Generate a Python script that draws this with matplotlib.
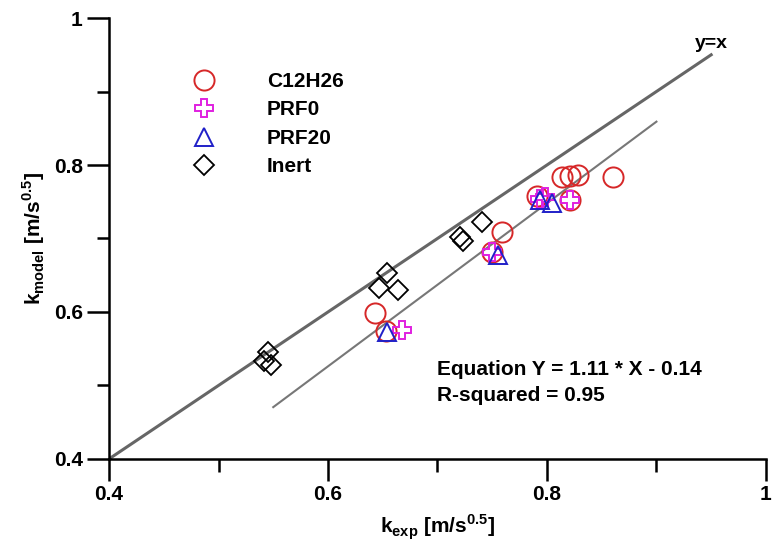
import numpy as np
import matplotlib.pyplot as plt
from matplotlib.ticker import MultipleLocator

plt.rcParams['font.family'] = ['Liberation Sans', 'DejaVu Sans']
plt.rcParams['font.weight'] = 'bold'
plt.rcParams['mathtext.fontset'] = 'custom'
plt.rcParams['mathtext.rm'] = 'Liberation Sans:bold'
plt.rcParams['mathtext.bf'] = 'Liberation Sans:bold'

# k_exp, k_model values
c12_x = [0.643, 0.653, 0.750, 0.759, 0.791, 0.814, 0.821, 0.828, 0.860, 0.821]
c12_y = [0.599, 0.574, 0.682, 0.709, 0.758, 0.784, 0.785, 0.786, 0.784, 0.752]

prf0_x = [0.668, 0.750, 0.794, 0.798, 0.821]
prf0_y = [0.575, 0.682, 0.754, 0.757, 0.752]

prf20_x = [0.654, 0.755, 0.794, 0.805]
prf20_y = [0.573, 0.678, 0.752, 0.748]

inert_x = [0.545, 0.542, 0.548, 0.654, 0.647, 0.664, 0.721, 0.723, 0.741]
inert_y = [0.545, 0.533, 0.528, 0.653, 0.633, 0.630, 0.702, 0.697, 0.722]

diag_x = [0.4, 0.95]
fit_x = [0.55, 0.9]
slope, intercept = 1.11, -0.14

fig = plt.figure(figsize=(7.76, 5.47), dpi=100)
ax = fig.add_axes([0.1405, 0.161, 0.8465, 0.806])

ax.plot(diag_x, diag_x, c='#666666', lw=2.2, zorder=1)
ax.plot(fit_x, [slope * x + intercept for x in fit_x], c='#777777', lw=1.5, zorder=1)

ax.plot(c12_x, c12_y, ls='none', marker='o', ms=14.5, mfc='none', mec='#d62728', mew=1.4, label='C12H26')
ax.plot(prf0_x, prf0_y, ls='none', marker='P', ms=13, mfc='none', mec='#e020e0', mew=1.4, label='PRF0')
ax.plot(prf20_x, prf20_y, ls='none', marker='^', ms=13, mfc='none', mec='#2020c8', mew=1.4, label='PRF20')
ax.plot(inert_x, inert_y, ls='none', marker='D', ms=10, mfc='none', mec='k', mew=1.3, label='Inert')

ax.set_xlim(0.4, 1.0)
ax.set_ylim(0.4, 1.0)
ax.spines['top'].set_visible(False)
ax.spines['right'].set_visible(False)
ax.spines['left'].set_linewidth(1.8)
ax.spines['bottom'].set_linewidth(1.8)

ax.xaxis.set_major_locator(MultipleLocator(0.2))
ax.xaxis.set_minor_locator(MultipleLocator(0.1))
ax.yaxis.set_major_locator(MultipleLocator(0.2))
ax.yaxis.set_minor_locator(MultipleLocator(0.1))
ax.xaxis.set_major_formatter(lambda v, p: f'{v:g}')
ax.yaxis.set_major_formatter(lambda v, p: f'{v:g}')
ax.tick_params(which='major', length=16, width=1.8, labelsize=15, pad=3)
ax.tick_params(which='minor', length=9, width=1.8)
for lab in ax.get_xticklabels() + ax.get_yticklabels():
    lab.set_fontweight('bold')

ax.set_xlabel(r'k$_{\mathregular{exp}}$ [m/s$^{\mathregular{0.5}}$]', fontsize=15, fontweight='bold', labelpad=6)
ax.set_ylabel(r'k$_{\mathregular{model}}$ [m/s$^{\mathregular{0.5}}$]', fontsize=15, fontweight='bold', labelpad=5)

ax.legend(loc='upper left', bbox_to_anchor=(0.085, 0.92), frameon=False,
          handletextpad=2.0, labelspacing=0.45, prop={'weight': 'bold', 'size': 15})

ax.text(0.935, 0.966, 'y=x', fontsize=14, fontweight='bold', va='center')
ax.text(0.6995, 0.522, 'Equation Y = 1.11 * X - 0.14', fontsize=15, fontweight='bold', va='center')
ax.text(0.6995, 0.486, 'R-squared = 0.95', fontsize=15, fontweight='bold', va='center')

fig.savefig('out.png', dpi=100)
